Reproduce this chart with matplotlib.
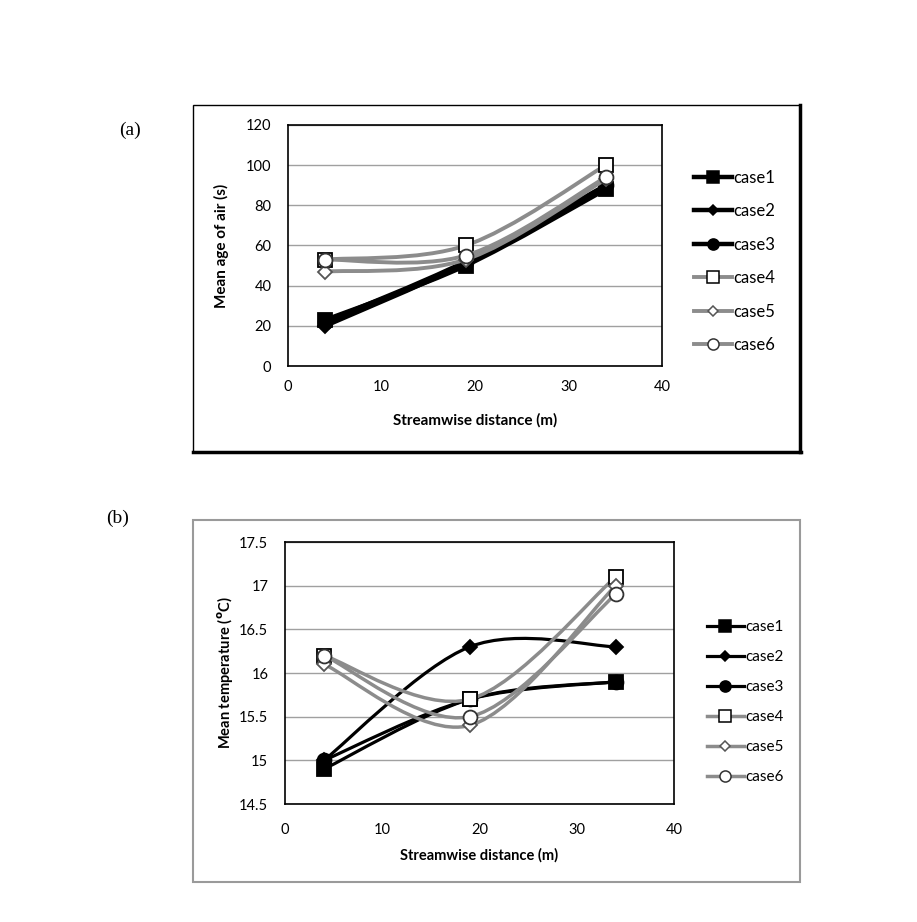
import numpy as np
import matplotlib
matplotlib.use('Agg')
import matplotlib.pyplot as plt
from matplotlib.path import Path
from matplotlib.patches import PathPatch, Rectangle
from matplotlib.lines import Line2D

plt.rcParams['font.family'] = ['Lato', 'DejaVu Sans']

dist = [4, 19, 34]
cases = ['case1', 'case2', 'case3', 'case4', 'case5', 'case6']

# (a) mean age of air (s)
age = {
    'case1': [23, 50, 88],
    'case2': [20, 51, 89],
    'case3': [22, 52, 90],
    'case4': [53, 60, 100],
    'case5': [47, 53, 93],
    'case6': [53, 55, 94],
}

# (b) mean temperature (oC)
temp = {
    'case1': [14.9, 15.7, 15.9],
    'case2': [15.0, 16.3, 16.3],
    'case3': [15.0, 15.7, 15.9],
    'case4': [16.2, 15.7, 17.1],
    'case5': [16.1, 15.4, 17.0],
    'case6': [16.2, 15.5, 16.9],
}

GRAY = '#8c8c8c'
style = {
    'case1': dict(color='black', marker='s', mfc='black', mec='black', ms=10, lms=8),
    'case2': dict(color='black', marker='D', mfc='black', mec='black', ms=7, lms=5.5),
    'case3': dict(color='black', marker='o', mfc='black', mec='black', ms=10, lms=8),
    'case4': dict(color=GRAY, marker='s', mfc='white', mec='black', ms=10, lms=8),
    'case5': dict(color=GRAY, marker='D', mfc='white', mec='#555555', ms=7, lms=5.5),
    'case6': dict(color=GRAY, marker='o', mfc='white', mec='#333333', ms=10, lms=8),
}


def smooth_path(xs, ys):
    # Excel-like smoothed line: Catmull-Rom segments as cubic Beziers
    pts = np.column_stack([xs, ys]).astype(float)
    n = len(pts)
    verts = [pts[0]]
    codes = [Path.MOVETO]
    for i in range(n - 1):
        p0 = pts[max(i - 1, 0)]
        p1 = pts[i]
        p2 = pts[i + 1]
        p3 = pts[min(i + 2, n - 1)]
        verts += [p1 + (p2 - p0) / 6, p2 - (p3 - p1) / 6, p2]
        codes += [Path.CURVE4] * 3
    return Path(verts, codes)


def draw(ax, data, lw_black, lw_gray):
    handles = []
    for k, c in enumerate(cases):
        st = style[c]
        lw = lw_black if st['color'] == 'black' else lw_gray
        ax.add_patch(PathPatch(smooth_path(dist, data[c]), fc='none',
                               ec=st['color'], lw=lw, zorder=3 + k,
                               capstyle='round'))
        ax.plot(dist, data[c], ls='none', marker=st['marker'], mfc=st['mfc'],
                mec=st['mec'], ms=st['ms'], mew=1.3, zorder=3.5 + k)
        handles.append(Line2D([], [], color=st['color'], lw=lw,
                              marker=st['marker'], mfc=st['mfc'],
                              mec=st['mec'], ms=st['lms'], mew=1.1, label=c))
    return handles


def style_axes(ax, pad_x):
    ax.set_xlim(0, 40)
    ax.set_xticks([0, 10, 20, 30, 40])
    ax.grid(axis='y', color='#a0a0a0', lw=1)
    ax.set_axisbelow(True)
    ax.tick_params(length=0, labelsize=10.5)
    ax.tick_params(axis='y', pad=12)
    ax.tick_params(axis='x', pad=pad_x)
    for s in ax.spines.values():
        s.set_color('black')
        s.set_linewidth(1.2)


fig = plt.figure(figsize=(9.17, 9.22), dpi=100)

# outer frames
fig.patches.append(Rectangle((193 / 917, 1 - 452 / 922), 607 / 917, 347 / 922,
                             transform=fig.transFigure, fc='white',
                             ec='black', lw=1.0, zorder=-2))
fig.add_artist(Line2D([800 / 917, 800 / 917], [1 - 452 / 922, 1 - 105 / 922],
                      transform=fig.transFigure, color='black', lw=2.5,
                      zorder=-1))
fig.add_artist(Line2D([193 / 917, 801 / 917], [1 - 452 / 922, 1 - 452 / 922],
                      transform=fig.transFigure, color='black', lw=2.5,
                      zorder=-1))
fig.patches.append(Rectangle((193 / 917, 1 - 882 / 922), 607 / 917, 362 / 922,
                             transform=fig.transFigure, fc='white',
                             ec='#9a9a9a', lw=1.5, zorder=-2))

# (a)
ax1 = fig.add_axes([288 / 917, 1 - 366 / 922, 374 / 917, 241 / 922])
h1 = draw(ax1, age, 3.2, 2.8)
style_axes(ax1, 10)
ax1.set_ylim(0, 120)
ax1.set_yticks(range(0, 121, 20))
ax1.set_xlabel('Streamwise distance (m)', fontsize=11, fontweight='bold',
               labelpad=14)
ax1.set_ylabel('Mean age of air (s)', fontsize=11, fontweight='bold',
               labelpad=12)
ax1.legend(handles=h1, loc='center left', bbox_to_anchor=(694 / 917, 1 - 261.5 / 922),
           bbox_transform=fig.transFigure, frameon=False, fontsize=12,
           handlelength=2.3, handletextpad=0.05, labelspacing=1.05,
           borderpad=0, borderaxespad=0)

# (b)
ax2 = fig.add_axes([285 / 917, 1 - 804 / 922, 389 / 917, 262 / 922])
h2 = draw(ax2, temp, 2.3, 2.5)
style_axes(ax2, 14)
ax2.set_ylim(14.5, 17.5)
ax2.set_yticks([14.5, 15, 15.5, 16, 16.5, 17, 17.5])
ax2.set_yticklabels(['14.5', '15', '15.5', '16', '16.5', '17', '17.5'])
ax2.set_xlabel('Streamwise distance (m)', fontsize=10.5, fontweight='bold',
               labelpad=8)
ax2.set_ylabel(r'Mean temperature ($\mathbf{^{o}}$C)', fontsize=10.5,
               fontweight='bold', labelpad=3)
ax2.legend(handles=h2, loc='center left', bbox_to_anchor=(707 / 917, 1 - 702 / 922),
           bbox_transform=fig.transFigure, frameon=False, fontsize=11,
           handlelength=2.4, handletextpad=0.1, labelspacing=1.05,
           borderpad=0, borderaxespad=0)

fig.text(130 / 917, 1 - 130 / 922, '(a)', family='Liberation Serif',
         fontsize=14, ha='center', va='center')
fig.text(118 / 917, 1 - 518 / 922, '(b)', family='Liberation Serif',
         fontsize=14, ha='center', va='center')

fig.savefig('out.png', dpi=100)
